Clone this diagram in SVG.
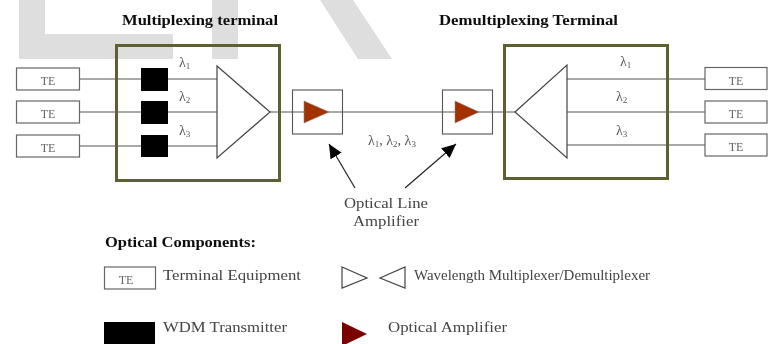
<svg xmlns="http://www.w3.org/2000/svg" width="769" height="344" viewBox="0 0 769 344">
<style>
text{font-family:"Liberation Serif","Times New Roman",serif;fill:#444}
.t{font-weight:bold;fill:#111;font-size:14px}
.b{font-size:15px}
.l{font-size:14px;fill:#555}
.te{font-size:12px;fill:#666;text-anchor:middle}
.sub{font-size:9px}
.box{fill:#fff;stroke:#666;stroke-width:1.2}
.term{fill:none;stroke:#5f6033;stroke-width:3}
.line{fill:none;stroke:#555;stroke-width:1.1}
.mux{fill:#fff;stroke:#444;stroke-width:1.2}
.amp{fill:#a33000;stroke:#888;stroke-width:.6}
.wm{fill:#dedede}
.arrow{fill:none;stroke:#222;stroke-width:1.2;marker-end:url(#head)}
</style>
<defs>
<filter id="soft" x="-2%" y="-2%" width="104%" height="104%"><feGaussianBlur stdDeviation="0.45"/></filter>
<marker id="head" markerUnits="userSpaceOnUse" markerWidth="16" markerHeight="14" refX="14" refY="6.5" orient="auto"><path d="M0 0L14 6.5L0 13z" fill="#000"/></marker>
</defs>
<rect width="769" height="344" fill="#fff"/>
<g id="watermark" class="wm">
<path d="M19 0H45V34H173V59H19z"/>
<path d="M212 0H238V59H212z"/>
<path d="M320 0H353L392 59H358z"/>
</g>
<g filter="url(#soft)">
<g id="connectors">
<path class="line" d="M79 79H217M79 112H217M79 146H217M270 112H515M567 79H705M567 112H705M567 145H705"/>
<path class="arrow" d="M355 188L329 144"/>
<path class="arrow" d="M405 188L456 144"/>
</g>
<g id="mux-terminal"><rect class="term" x="116.500" y="45.500" width="163" height="135"/>
<path class="mux" d="M217 66L270 112L217 158z"/>
<text class="l" x="179" y="67">λ<tspan class="sub" dy="2">1</tspan></text>
<text class="l" x="179" y="101">λ<tspan class="sub" dy="2">2</tspan></text>
<text class="l" x="179" y="135">λ<tspan class="sub" dy="2">3</tspan></text>
</g>
<g id="tx1"><rect x="141" y="68" width="27" height="23" fill="#000"/></g>
<g id="tx2"><rect x="141" y="101" width="27" height="23" fill="#000"/></g>
<g id="tx3"><rect x="141" y="135" width="27" height="22" fill="#000"/></g>
<g id="te-l1"><rect class="box" x="16.500" y="68" width="63" height="22"/><text class="te" x="48" y="85">TE</text></g>
<g id="te-l2"><rect class="box" x="16.500" y="101" width="63" height="22"/><text class="te" x="48" y="118">TE</text></g>
<g id="te-l3"><rect class="box" x="16.500" y="135" width="63" height="22"/><text class="te" x="48" y="152">TE</text></g>
<g id="amp1"><rect x="292.500" y="90" width="50" height="44" fill="none" stroke="#555" stroke-width="1.1"/><path class="amp" d="M304 101L329 112L304 123z"/></g>
<g id="amp2"><rect x="442.500" y="90" width="50" height="44" fill="none" stroke="#555" stroke-width="1.1"/><path class="amp" d="M455 101L479 112L455 123z"/></g>
<g id="demux-terminal"><rect class="term" x="504.500" y="45.500" width="163" height="133"/>
<path class="mux" d="M515 112L567 65V158z"/>
<text class="l" x="620" y="66">λ<tspan class="sub" dy="2">1</tspan></text>
<text class="l" x="616" y="101">λ<tspan class="sub" dy="2">2</tspan></text>
<text class="l" x="616" y="135">λ<tspan class="sub" dy="2">3</tspan></text>
</g>
<g id="te-r1"><rect class="box" x="705" y="67.500" width="62" height="22"/><text class="te" x="736" y="85">TE</text></g>
<g id="te-r2"><rect class="box" x="705" y="101" width="62" height="22"/><text class="te" x="736" y="118">TE</text></g>
<g id="te-r3"><rect class="box" x="705" y="134" width="62" height="22"/><text class="te" x="736" y="151">TE</text></g>
<text class="t" x="122" y="25" textLength="156" lengthAdjust="spacingAndGlyphs">Multiplexing terminal</text>
<text class="t" x="439" y="25" textLength="179" lengthAdjust="spacingAndGlyphs">Demultiplexing Terminal</text>
<text class="l" x="368" y="145">λ<tspan class="sub" dy="2">1</tspan><tspan dy="-2">, λ</tspan><tspan class="sub" dy="2">2</tspan><tspan dy="-2">, λ</tspan><tspan class="sub" dy="2">3</tspan></text>
<g id="ola-label">
<text class="b" x="344" y="208" textLength="84" lengthAdjust="spacingAndGlyphs">Optical Line</text>
<text class="b" x="353" y="226" textLength="66" lengthAdjust="spacingAndGlyphs">Amplifier</text>
</g>
<g id="legend">
<text class="t" x="105" y="247" textLength="151" lengthAdjust="spacingAndGlyphs">Optical Components:</text>
<rect class="box" x="104.500" y="267" width="51" height="22"/><text class="te" x="126" y="284">TE</text>
<text class="b" x="163" y="280" textLength="138" lengthAdjust="spacingAndGlyphs">Terminal Equipment</text>
<path class="mux" d="M342 267L367 278L342 288z"/>
<path class="mux" d="M380 278L405 267V288z"/>
<text class="b" x="414" y="280" textLength="236" lengthAdjust="spacingAndGlyphs">Wavelength Multiplexer/Demultiplexer</text>
<rect x="104" y="322" width="51" height="22" fill="#000"/>
<text class="b" x="163" y="332" textLength="124" lengthAdjust="spacingAndGlyphs">WDM Transmitter</text>
<path d="M342 322L367 334L342 346z" fill="#7a0000"/>
<text class="b" x="388" y="332" textLength="119" lengthAdjust="spacingAndGlyphs">Optical Amplifier</text>
</g>
</g>
</svg>
